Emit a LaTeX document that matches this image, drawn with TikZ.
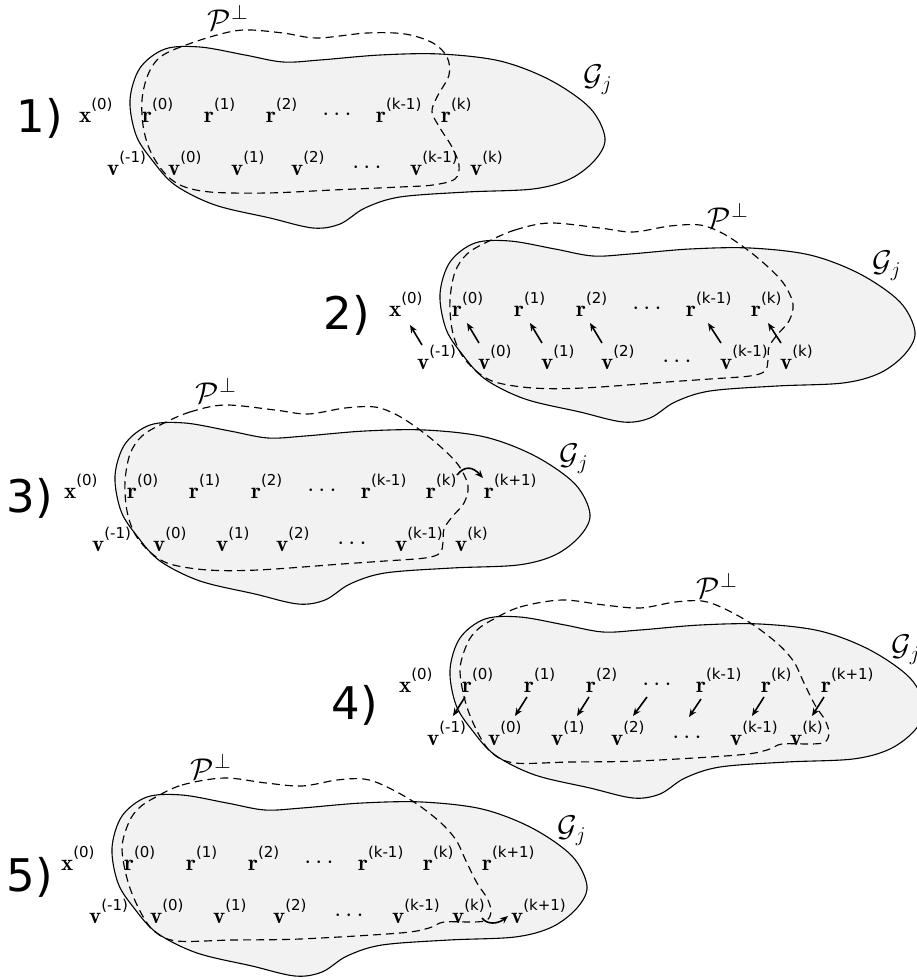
\RequirePackage{fix-cm}
\documentclass[tikz,border=0pt]{standalone}
\usepackage{fontspec}
\usetikzlibrary{arrows.meta}
\newfontfamily\dvs{DejaVu Sans}
\definecolor{blobfill}{RGB}{242,242,242}

\tikzset{
  blob/.style={draw=black, line width=1.1pt, fill=blobfill},
  region/.style={draw=black, line width=1.15pt, dash pattern=on 8pt off 5pt},
  lbl/.style={anchor=base west, inner sep=0pt, font=\fontsize{23}{27}\selectfont},
  dotsnode/.style={inner sep=0pt, font=\fontsize{25}{29}\selectfont},
  stepnum/.style={inner sep=0pt, font=\dvs\fontsize{45}{50}\selectfont},
  setname/.style={inner sep=0pt, font=\fontsize{30}{34}\selectfont},
  arr/.style={line width=1.6pt, -{Stealth[length=8pt,width=6.5pt]}},
}
% raised sans-serif iteration index
\newcommand\sups[1]{\raisebox{13pt}{\dvs\fontsize{15}{18}\selectfont #1}}

% outline of the set G_j
\newcommand\blobshape{plot[smooth cycle, tension=0.55] coordinates {
  (130,100) (136,135) (152,160) (175,185) (215,205) (270,218) (313,228)
  (340,224) (365,208) (400,197) (467,192) (533,189) (570,179) (595,160)
  (605,138) (590,108) (550,80) (500,61) (440,54) (380,55) (320,60)
  (283,62) (245,55) (200,47) (165,49) (140,68)}}

% subspace P-perp, three variants
\newcommand\regionA{plot[smooth cycle, tension=0.55] coordinates {
  (173,50) (210,37) (243,30) (283,33) (317,38) (367,33) (405,34) (433,43)
  (447,57) (449,75) (437,97) (432,112) (440,128) (452,147) (459,165)
  (455,179) (433,185) (400,187) (333,190) (267,193) (210,192) (180,185)
  (162,170) (149,148) (143,125) (142,100) (147,77) (157,60)}}
\newcommand\regionB{plot[smooth cycle, tension=0.55] coordinates {
  (177,48) (205,36) (240,29) (290,34) (323,38) (360,32) (390,31) (412,39)
  (435,54) (457,72) (474,90) (483,110) (479,127) (467,141) (459,153)
  (458,166) (455,177) (440,182) (400,185) (357,188) (273,194) (223,194)
  (185,188) (165,176) (150,158) (142,135) (140,106) (145,78) (157,60)}}
\newcommand\regionC{plot[smooth cycle, tension=0.55] coordinates {
  (172,50) (200,37) (242,30) (284,35) (320,38) (355,32) (382,31) (403,38)
  (432,54) (458,74) (474,92) (484,113) (495,135) (505,150) (509,163)
  (505,172) (492,174) (462,174) (447,180) (418,185) (318,191) (250,192)
  (195,193) (172,183) (158,163) (146,134) (140,100) (147,74) (157,60)}}

% the iterates shared by every panel
\newcommand\iterates[1]{%
  \node[lbl] (#1x)   at (79,122)  {$\mathbf{x}$\sups{(0)}};
  \node[lbl] (#1r0)  at (142,122) {$\mathbf{r}$\sups{(0)}};
  \node[lbl] (#1r1)  at (204,122) {$\mathbf{r}$\sups{(1)}};
  \node[lbl] (#1r2)  at (266,122) {$\mathbf{r}$\sups{(2)}};
  \node[dotsnode] (#1rd) at (337,115) {$\cdots$};
  \node[lbl] (#1rkm) at (376,122) {$\mathbf{r}$\sups{(k-1)}};
  \node[lbl] (#1rk)  at (441,122) {$\mathbf{r}$\sups{(k)}};
  \node[lbl] (#1vm)  at (107,175) {$\mathbf{v}$\sups{(-1)}};
  \node[lbl] (#1v0)  at (168,175) {$\mathbf{v}$\sups{(0)}};
  \node[lbl] (#1v1)  at (231,175) {$\mathbf{v}$\sups{(1)}};
  \node[lbl] (#1v2)  at (291,175) {$\mathbf{v}$\sups{(2)}};
  \node[dotsnode] (#1vd) at (367,168) {$\cdots$};
  \node[lbl] (#1vkm) at (410,175) {$\mathbf{v}$\sups{(k-1)}};
  \node[lbl] (#1vk)  at (470,175) {$\mathbf{v}$\sups{(k)}};
}

\begin{document}
\begin{tikzpicture}[x=1pt,y=-1pt]
\useasboundingbox (0,0) rectangle (917,980);
\clip (0,0) rectangle (917,980);

% ---------- step 1
\begin{scope}
  \path[blob] \blobshape;
  \path[region] \regionA;
  \iterates{a}
  \node[stepnum] (an) at (40,118) {1)};
  \node[setname] (aP) at (228,18) {$\mathcal{P}^{\perp}$};
  \node[setname] (aG) at (598,80) {$\mathcal{G}_j$};
\end{scope}

% ---------- step 2
\begin{scope}[shift={(310,194)}]
  \path[blob] \blobshape;
  \path[region] \regionB;
  \iterates{b}
  \node[stepnum] (bn) at (37,121) {2)};
  \node[setname] (bP) at (418,22) {$\mathcal{P}^{\perp}$};
  \node[setname] (bG) at (577,72) {$\mathcal{G}_j$};
  \draw[arr] ([shift={(5,-24)}]bvm.base west)  -- ([shift={(21,9)}]bx.base west);
  \draw[arr] ([shift={(1,-26)}]bv0.base west) -- ([shift={(15,7)}]br0.base west);
  \draw[arr] ([shift={(1,-26)}]bv1.base west) -- ([shift={(16,7)}]br1.base west);
  \draw[arr] ([shift={(1,-26)}]bv2.base west) -- ([shift={(14,7)}]br2.base west);
  \draw[arr] ([shift={(1,-26)}]bvkm.base west) -- ([shift={(22,7)}]brkm.base west);
  \draw[arr] ([shift={(1,-26)}]bvk.base west) -- ([shift={(17,7)}]brk.base west);
\end{scope}

% ---------- step 3
\begin{scope}[shift={(-15,376)}]
  \path[blob] \blobshape;
  \path[region] \regionB;
  \iterates{c}
  \node[lbl] (crk1) at (499,122) {$\mathbf{r}$\sups{(k+1)}};
  \node[stepnum] (cn) at (45,122) {3)};
  \node[setname] (cP) at (231,15) {$\mathcal{P}^{\perp}$};
  \node[setname] (cG) at (589,83) {$\mathcal{G}_j$};
  \draw[arr] ([shift={(31,-23)}]crk.base west)
    .. controls ([shift={(39,-33)}]crk.base west) and ([shift={(-11,-31)}]crk1.base west)
    .. ([shift={(-1,-20)}]crk1.base west);
\end{scope}

% ---------- step 4
\begin{scope}[shift={(320,570)}]
  \path[blob] \blobshape;
  \path[region] \regionC;
  \iterates{d}
  \node[lbl] (drk1) at (501,122) {$\mathbf{r}$\sups{(k+1)}};
  \node[stepnum] (dn) at (35,135) {4)};
  \node[setname] (dP) at (397,16) {$\mathcal{P}^{\perp}$};
  \node[setname] (dG) at (586,80) {$\mathcal{G}_j$};
  \draw[arr] ([shift={(3,5)}]dr0.base west)  -- ([shift={(26,-29)}]dvm.base west);
  \draw[arr] ([shift={(3,5)}]dr1.base west)  -- ([shift={(27,-29)}]dv0.base west);
  \draw[arr] ([shift={(3,5)}]dr2.base west)  -- ([shift={(26,-29)}]dv1.base west);
  \draw[arr] ([shift={(-10,12)}]drd.center)  -- ([shift={(22,-29)}]dv2.base west);
  \draw[arr] ([shift={(5,7)}]drkm.base west) -- ([shift={(2,-21)}]dvd.center);
  \draw[arr] ([shift={(3,5)}]drk.base west)  -- ([shift={(22,-29)}]dvkm.base west);
  \draw[arr] ([shift={(3,5)}]drk1.base west) -- ([shift={(22,-29)}]dvk.base west);
\end{scope}

% ---------- step 5
\begin{scope}[shift={(-18,748)}]
  \path[blob] \blobshape;
  \path[region] \regionC;
  \iterates{e}
  \node[lbl] (erk1) at (500,122) {$\mathbf{r}$\sups{(k+1)}};
  \node[lbl] (evk1) at (529,175) {$\mathbf{v}$\sups{(k+1)}};
  \node[stepnum] (en) at (48,129) {5)};
  \node[setname] (eP) at (229,19) {$\mathcal{P}^{\perp}$};
  \node[setname] (eG) at (590,83) {$\mathcal{G}_j$};
  \draw[arr] ([shift={(30,-5)}]evk.base west)
    .. controls ([shift={(35,2)}]evk.base west) and ([shift={(-13,1)}]evk1.base west)
    .. ([shift={(-3,-7)}]evk1.base west);
\end{scope}
\end{tikzpicture}
\end{document}
